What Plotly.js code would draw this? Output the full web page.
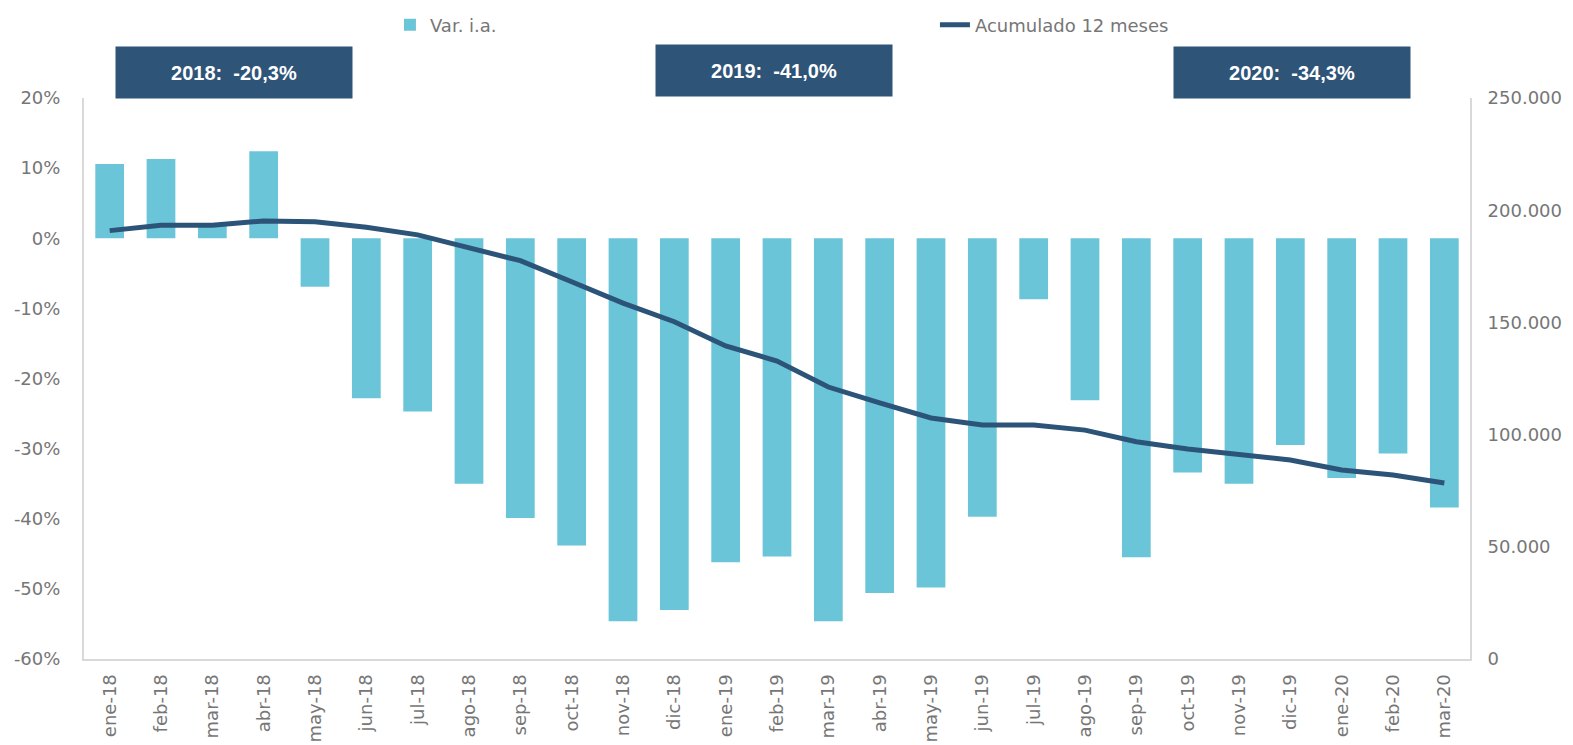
<!DOCTYPE html>
<html>
<head>
<meta charset="utf-8">
<script src="https://cdn.plot.ly/plotly-3.0.1.min.js"></script>
<style>html,body{margin:0;padding:0;background:#fff;}</style>
</head>
<body>
<div id="chart" style="width:1573px;height:745px;"></div>
<script>
const categories = ["ene-18","feb-18","mar-18","abr-18","may-18","jun-18","jul-18","ago-18","sep-18","oct-18","nov-18","dic-18",
  "ene-19","feb-19","mar-19","abr-19","may-19","jun-19","jul-19","ago-19","sep-19","oct-19","nov-19","dic-19",
  "ene-20","feb-20","mar-20"];
const varIA = [10.6, 11.3, 1.8, 12.4, -6.9, -22.8, -24.7, -35.0, -39.9, -43.8, -54.6, -53.0,
  -46.2, -45.4, -54.6, -50.6, -49.8, -39.7, -8.7, -23.1, -45.5, -33.4, -35.0, -29.5,
  -34.2, -30.7, -38.4];
const acumulado = [190900, 193300, 193300, 195200, 194900, 192400, 189000, 183500, 177500, 168100, 158600, 150300,
  139500, 132800, 121200, 114100, 107400, 104300, 104300, 102000, 96800, 93600, 90900, 88700,
  84200, 82000, 78400];
const leftTickVals = [-60, -50, -40, -30, -20, -10, 0, 10, 20];
const leftTickText = ["-60%", "-50%", "-40%", "-30%", "-20%", "-10%", "0%", "10%", "20%"];
const rightTickVals = [0, 50000, 100000, 150000, 200000, 250000];
const rightTickText = ["0", "50.000", "100.000", "150.000", "200.000", "250.000"];
const yearLabels = ["2018:  -20,3%", "2019:  -41,0%", "2020:  -34,3%"];
const seriesNames = ["Var. i.a.", "Acumulado 12 meses"];

const gray = '#767676';
const fam = 'DejaVu Sans, Verdana, sans-serif';
const tickFont = {family: fam, size: 18, color: gray};

const traces = [
  {
    type: 'bar', name: seriesNames[0], x: categories, y: varIA,
    marker: {color: '#6BC5D8', line: {width: 0}}, yaxis: 'y'
  },
  {
    type: 'scatter', mode: 'lines', name: seriesNames[1], x: categories, y: acumulado,
    line: {color: '#2C5478', width: 5}, yaxis: 'y2'
  }
];

const boxX = [0.1082, 0.4975, 0.8716];
const boxY = [1.0455, 1.049, 1.0455];
const annotations = yearLabels.map((t, i) => ({
  text: '<b>' + t + '</b>', xref: 'paper', yref: 'paper', x: boxX[i], y: boxY[i],
  xanchor: 'center', yanchor: 'middle', showarrow: false,
  bgcolor: '#2E5478', width: 236, height: 51, borderpad: 0,
  font: {family: 'Liberation Sans, Arial, sans-serif', size: 20, color: '#ffffff'}
}));

const layout = {
  width: 1573, height: 745,
  margin: {l: 84, r: 103, t: 98, b: 86, pad: 0, autoexpand: false},
  paper_bgcolor: '#ffffff', plot_bgcolor: '#ffffff',
  separators: ',.',
  bargap: 0.44,
  showlegend: true,
  legend: {
    orientation: 'h', xref: 'container', yref: 'container', x: 0.2479, y: 0.9664,
    xanchor: 'left', yanchor: 'middle',
    font: {family: fam, size: 18, color: gray},
    entrywidth: 500, entrywidthmode: 'pixels', bgcolor: 'rgba(0,0,0,0)'
  },
  xaxis: {
    type: 'category', tickangle: -90, tickfont: tickFont, showgrid: false,
    showline: true, linecolor: '#D9D9D9', linewidth: 2, ticks: '', ticklabelstandoff: 6,
    zeroline: false, automargin: false
  },
  yaxis: {
    range: [-60, 20], tickmode: 'array', tickvals: leftTickVals, ticktext: leftTickText,
    tickfont: tickFont, showgrid: false,
    showline: true, linecolor: '#D9D9D9', linewidth: 2, ticks: '', zeroline: false,
    ticklabelstandoff: 18, automargin: false
  },
  yaxis2: {
    range: [0, 250000], tickmode: 'array', tickvals: rightTickVals, ticktext: rightTickText,
    overlaying: 'y', side: 'right',
    tickfont: tickFont, showgrid: false, showline: true, linecolor: '#D9D9D9', linewidth: 2,
    ticks: '', zeroline: false, ticklabelstandoff: 12, automargin: false
  },
  annotations: annotations
};

Plotly.newPlot('chart', traces, layout, {displayModeBar: false, responsive: false});
</script>
</body>
</html>
